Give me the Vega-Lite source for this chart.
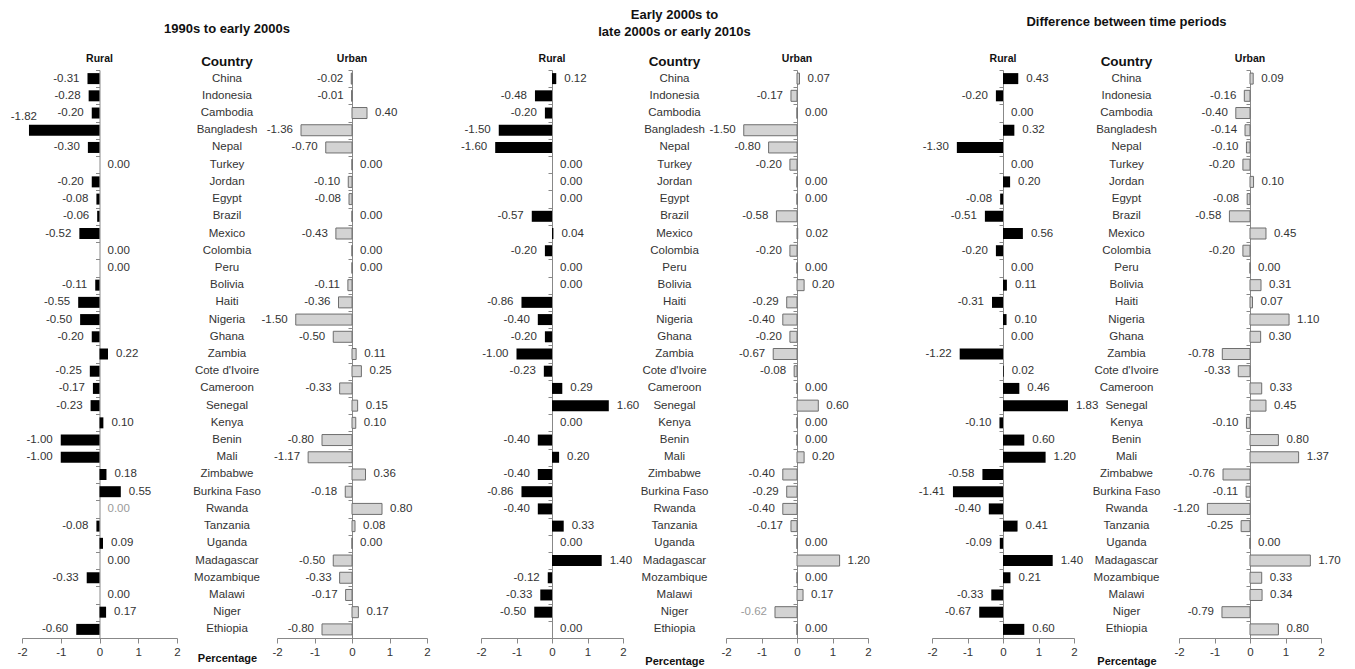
{
  "$schema": "https://vega.github.io/schema/vega-lite/v6.json",
  "padding": {"left": 10, "top": 8, "right": 5, "bottom": 5},
  "background": "white",
  "config": {
    "font": "Liberation Sans",
    "view": {"stroke": null},
    "axis": {"labelFont": "Liberation Sans", "labelFontSize": 11.5, "labelColor": "#333", "domainColor": "#888", "tickColor": "#888", "grid": false, "titleFont": "Liberation Sans", "labelFlush": false, "labelOverlap": false, "labelBound": false},
    "axisX": {"tickCount": 5},
    "title": {"font": "Liberation Sans", "fontWeight": "bold", "color": "#111"},
    "text": {"font": "Liberation Sans", "fontSize": 11.5},
    "locale": {"number": {"decimal": ".", "thousands": ",", "grouping": [3], "currency": ["$", ""], "minus": "-"}}
  },
  "datasets": {
    "d": [
      {"c":"China","p":1,"a":"Rural","v":-0.31},{"c":"Indonesia","p":1,"a":"Rural","v":-0.28},{"c":"Cambodia","p":1,"a":"Rural","v":-0.20},{"c":"Bangladesh","p":1,"a":"Rural","v":-1.82},{"c":"Nepal","p":1,"a":"Rural","v":-0.30},{"c":"Turkey","p":1,"a":"Rural","v":0.00},{"c":"Jordan","p":1,"a":"Rural","v":-0.20},{"c":"Egypt","p":1,"a":"Rural","v":-0.08},{"c":"Brazil","p":1,"a":"Rural","v":-0.06},{"c":"Mexico","p":1,"a":"Rural","v":-0.52},{"c":"Colombia","p":1,"a":"Rural","v":0.00},{"c":"Peru","p":1,"a":"Rural","v":0.00},{"c":"Bolivia","p":1,"a":"Rural","v":-0.11},{"c":"Haiti","p":1,"a":"Rural","v":-0.55},{"c":"Nigeria","p":1,"a":"Rural","v":-0.50},{"c":"Ghana","p":1,"a":"Rural","v":-0.20},{"c":"Zambia","p":1,"a":"Rural","v":0.22},{"c":"Cote d'Ivoire","p":1,"a":"Rural","v":-0.25},{"c":"Cameroon","p":1,"a":"Rural","v":-0.17},{"c":"Senegal","p":1,"a":"Rural","v":-0.23},{"c":"Kenya","p":1,"a":"Rural","v":0.10},{"c":"Benin","p":1,"a":"Rural","v":-1.00},{"c":"Mali","p":1,"a":"Rural","v":-1.00},{"c":"Zimbabwe","p":1,"a":"Rural","v":0.18},{"c":"Burkina Faso","p":1,"a":"Rural","v":0.55},{"c":"Rwanda","p":1,"a":"Rural","v":0.00},{"c":"Tanzania","p":1,"a":"Rural","v":-0.08},{"c":"Uganda","p":1,"a":"Rural","v":0.09},{"c":"Madagascar","p":1,"a":"Rural","v":0.00},{"c":"Mozambique","p":1,"a":"Rural","v":-0.33},{"c":"Malawi","p":1,"a":"Rural","v":0.00},{"c":"Niger","p":1,"a":"Rural","v":0.17},{"c":"Ethiopia","p":1,"a":"Rural","v":-0.60},
      {"c":"China","p":1,"a":"Urban","v":-0.02},{"c":"Indonesia","p":1,"a":"Urban","v":-0.01},{"c":"Cambodia","p":1,"a":"Urban","v":0.40},{"c":"Bangladesh","p":1,"a":"Urban","v":-1.36},{"c":"Nepal","p":1,"a":"Urban","v":-0.70},{"c":"Turkey","p":1,"a":"Urban","v":0.00},{"c":"Jordan","p":1,"a":"Urban","v":-0.10},{"c":"Egypt","p":1,"a":"Urban","v":-0.08},{"c":"Brazil","p":1,"a":"Urban","v":0.00},{"c":"Mexico","p":1,"a":"Urban","v":-0.43},{"c":"Colombia","p":1,"a":"Urban","v":0.00},{"c":"Peru","p":1,"a":"Urban","v":0.00},{"c":"Bolivia","p":1,"a":"Urban","v":-0.11},{"c":"Haiti","p":1,"a":"Urban","v":-0.36},{"c":"Nigeria","p":1,"a":"Urban","v":-1.50},{"c":"Ghana","p":1,"a":"Urban","v":-0.50},{"c":"Zambia","p":1,"a":"Urban","v":0.11},{"c":"Cote d'Ivoire","p":1,"a":"Urban","v":0.25},{"c":"Cameroon","p":1,"a":"Urban","v":-0.33},{"c":"Senegal","p":1,"a":"Urban","v":0.15},{"c":"Kenya","p":1,"a":"Urban","v":0.10},{"c":"Benin","p":1,"a":"Urban","v":-0.80},{"c":"Mali","p":1,"a":"Urban","v":-1.17},{"c":"Zimbabwe","p":1,"a":"Urban","v":0.36},{"c":"Burkina Faso","p":1,"a":"Urban","v":-0.18},{"c":"Rwanda","p":1,"a":"Urban","v":0.80},{"c":"Tanzania","p":1,"a":"Urban","v":0.08},{"c":"Uganda","p":1,"a":"Urban","v":0.00},{"c":"Madagascar","p":1,"a":"Urban","v":-0.50},{"c":"Mozambique","p":1,"a":"Urban","v":-0.33},{"c":"Malawi","p":1,"a":"Urban","v":-0.17},{"c":"Niger","p":1,"a":"Urban","v":0.17},{"c":"Ethiopia","p":1,"a":"Urban","v":-0.80},
      {"c":"China","p":2,"a":"Rural","v":0.12},{"c":"Indonesia","p":2,"a":"Rural","v":-0.48},{"c":"Cambodia","p":2,"a":"Rural","v":-0.20},{"c":"Bangladesh","p":2,"a":"Rural","v":-1.50},{"c":"Nepal","p":2,"a":"Rural","v":-1.60},{"c":"Turkey","p":2,"a":"Rural","v":0.00},{"c":"Jordan","p":2,"a":"Rural","v":0.00},{"c":"Egypt","p":2,"a":"Rural","v":0.00},{"c":"Brazil","p":2,"a":"Rural","v":-0.57},{"c":"Mexico","p":2,"a":"Rural","v":0.04},{"c":"Colombia","p":2,"a":"Rural","v":-0.20},{"c":"Peru","p":2,"a":"Rural","v":0.00},{"c":"Bolivia","p":2,"a":"Rural","v":0.00},{"c":"Haiti","p":2,"a":"Rural","v":-0.86},{"c":"Nigeria","p":2,"a":"Rural","v":-0.40},{"c":"Ghana","p":2,"a":"Rural","v":-0.20},{"c":"Zambia","p":2,"a":"Rural","v":-1.00},{"c":"Cote d'Ivoire","p":2,"a":"Rural","v":-0.23},{"c":"Cameroon","p":2,"a":"Rural","v":0.29},{"c":"Senegal","p":2,"a":"Rural","v":1.60},{"c":"Kenya","p":2,"a":"Rural","v":0.00},{"c":"Benin","p":2,"a":"Rural","v":-0.40},{"c":"Mali","p":2,"a":"Rural","v":0.20},{"c":"Zimbabwe","p":2,"a":"Rural","v":-0.40},{"c":"Burkina Faso","p":2,"a":"Rural","v":-0.86},{"c":"Rwanda","p":2,"a":"Rural","v":-0.40},{"c":"Tanzania","p":2,"a":"Rural","v":0.33},{"c":"Uganda","p":2,"a":"Rural","v":0.00},{"c":"Madagascar","p":2,"a":"Rural","v":1.40},{"c":"Mozambique","p":2,"a":"Rural","v":-0.12},{"c":"Malawi","p":2,"a":"Rural","v":-0.33},{"c":"Niger","p":2,"a":"Rural","v":-0.50},{"c":"Ethiopia","p":2,"a":"Rural","v":0.00},
      {"c":"China","p":2,"a":"Urban","v":0.07},{"c":"Indonesia","p":2,"a":"Urban","v":-0.17},{"c":"Cambodia","p":2,"a":"Urban","v":0.00},{"c":"Bangladesh","p":2,"a":"Urban","v":-1.50},{"c":"Nepal","p":2,"a":"Urban","v":-0.80},{"c":"Turkey","p":2,"a":"Urban","v":-0.20},{"c":"Jordan","p":2,"a":"Urban","v":0.00},{"c":"Egypt","p":2,"a":"Urban","v":0.00},{"c":"Brazil","p":2,"a":"Urban","v":-0.58},{"c":"Mexico","p":2,"a":"Urban","v":0.02},{"c":"Colombia","p":2,"a":"Urban","v":-0.20},{"c":"Peru","p":2,"a":"Urban","v":0.00},{"c":"Bolivia","p":2,"a":"Urban","v":0.20},{"c":"Haiti","p":2,"a":"Urban","v":-0.29},{"c":"Nigeria","p":2,"a":"Urban","v":-0.40},{"c":"Ghana","p":2,"a":"Urban","v":-0.20},{"c":"Zambia","p":2,"a":"Urban","v":-0.67},{"c":"Cote d'Ivoire","p":2,"a":"Urban","v":-0.08},{"c":"Cameroon","p":2,"a":"Urban","v":0.00},{"c":"Senegal","p":2,"a":"Urban","v":0.60},{"c":"Kenya","p":2,"a":"Urban","v":0.00},{"c":"Benin","p":2,"a":"Urban","v":0.00},{"c":"Mali","p":2,"a":"Urban","v":0.20},{"c":"Zimbabwe","p":2,"a":"Urban","v":-0.40},{"c":"Burkina Faso","p":2,"a":"Urban","v":-0.29},{"c":"Rwanda","p":2,"a":"Urban","v":-0.40},{"c":"Tanzania","p":2,"a":"Urban","v":-0.17},{"c":"Uganda","p":2,"a":"Urban","v":0.00},{"c":"Madagascar","p":2,"a":"Urban","v":1.20},{"c":"Mozambique","p":2,"a":"Urban","v":0.00},{"c":"Malawi","p":2,"a":"Urban","v":0.17},{"c":"Niger","p":2,"a":"Urban","v":-0.62},{"c":"Ethiopia","p":2,"a":"Urban","v":0.00},
      {"c":"China","p":3,"a":"Rural","v":0.43},{"c":"Indonesia","p":3,"a":"Rural","v":-0.20},{"c":"Cambodia","p":3,"a":"Rural","v":0.00},{"c":"Bangladesh","p":3,"a":"Rural","v":0.32},{"c":"Nepal","p":3,"a":"Rural","v":-1.30},{"c":"Turkey","p":3,"a":"Rural","v":0.00},{"c":"Jordan","p":3,"a":"Rural","v":0.20},{"c":"Egypt","p":3,"a":"Rural","v":-0.08},{"c":"Brazil","p":3,"a":"Rural","v":-0.51},{"c":"Mexico","p":3,"a":"Rural","v":0.56},{"c":"Colombia","p":3,"a":"Rural","v":-0.20},{"c":"Peru","p":3,"a":"Rural","v":0.00},{"c":"Bolivia","p":3,"a":"Rural","v":0.11},{"c":"Haiti","p":3,"a":"Rural","v":-0.31},{"c":"Nigeria","p":3,"a":"Rural","v":0.10},{"c":"Ghana","p":3,"a":"Rural","v":0.00},{"c":"Zambia","p":3,"a":"Rural","v":-1.22},{"c":"Cote d'Ivoire","p":3,"a":"Rural","v":0.02},{"c":"Cameroon","p":3,"a":"Rural","v":0.46},{"c":"Senegal","p":3,"a":"Rural","v":1.83},{"c":"Kenya","p":3,"a":"Rural","v":-0.10},{"c":"Benin","p":3,"a":"Rural","v":0.60},{"c":"Mali","p":3,"a":"Rural","v":1.20},{"c":"Zimbabwe","p":3,"a":"Rural","v":-0.58},{"c":"Burkina Faso","p":3,"a":"Rural","v":-1.41},{"c":"Rwanda","p":3,"a":"Rural","v":-0.40},{"c":"Tanzania","p":3,"a":"Rural","v":0.41},{"c":"Uganda","p":3,"a":"Rural","v":-0.09},{"c":"Madagascar","p":3,"a":"Rural","v":1.40},{"c":"Mozambique","p":3,"a":"Rural","v":0.21},{"c":"Malawi","p":3,"a":"Rural","v":-0.33},{"c":"Niger","p":3,"a":"Rural","v":-0.67},{"c":"Ethiopia","p":3,"a":"Rural","v":0.60},
      {"c":"China","p":3,"a":"Urban","v":0.09},{"c":"Indonesia","p":3,"a":"Urban","v":-0.16},{"c":"Cambodia","p":3,"a":"Urban","v":-0.40},{"c":"Bangladesh","p":3,"a":"Urban","v":-0.14},{"c":"Nepal","p":3,"a":"Urban","v":-0.10},{"c":"Turkey","p":3,"a":"Urban","v":-0.20},{"c":"Jordan","p":3,"a":"Urban","v":0.10},{"c":"Egypt","p":3,"a":"Urban","v":-0.08},{"c":"Brazil","p":3,"a":"Urban","v":-0.58},{"c":"Mexico","p":3,"a":"Urban","v":0.45},{"c":"Colombia","p":3,"a":"Urban","v":-0.20},{"c":"Peru","p":3,"a":"Urban","v":0.00},{"c":"Bolivia","p":3,"a":"Urban","v":0.31},{"c":"Haiti","p":3,"a":"Urban","v":0.07},{"c":"Nigeria","p":3,"a":"Urban","v":1.10},{"c":"Ghana","p":3,"a":"Urban","v":0.30},{"c":"Zambia","p":3,"a":"Urban","v":-0.78},{"c":"Cote d'Ivoire","p":3,"a":"Urban","v":-0.33},{"c":"Cameroon","p":3,"a":"Urban","v":0.33},{"c":"Senegal","p":3,"a":"Urban","v":0.45},{"c":"Kenya","p":3,"a":"Urban","v":-0.10},{"c":"Benin","p":3,"a":"Urban","v":0.80},{"c":"Mali","p":3,"a":"Urban","v":1.37},{"c":"Zimbabwe","p":3,"a":"Urban","v":-0.76},{"c":"Burkina Faso","p":3,"a":"Urban","v":-0.11},{"c":"Rwanda","p":3,"a":"Urban","v":-1.20},{"c":"Tanzania","p":3,"a":"Urban","v":-0.25},{"c":"Uganda","p":3,"a":"Urban","v":0.00},{"c":"Madagascar","p":3,"a":"Urban","v":1.70},{"c":"Mozambique","p":3,"a":"Urban","v":0.33},{"c":"Malawi","p":3,"a":"Urban","v":0.34},{"c":"Niger","p":3,"a":"Urban","v":-0.79},{"c":"Ethiopia","p":3,"a":"Urban","v":0.80}
    ]
  },
  "data": {"name": "d"},
  "bounds": "flush",
  "spacing": 5,
  "hconcat": [
    {
      "width": 155, "height": 568,
      "title": {"text": "Rural", "frame": "group", "anchor": "middle", "fontSize": 10.5, "offset": 5},
      "transform": [{"filter": "datum.p == 1 && datum.a == 'Rural'"}],
      "encoding": {"y": {"field": "c", "type": "nominal", "sort": null, "scale": {"paddingInner": 0, "paddingOuter": 0}, "axis": {"title": null, "labels": false, "tickBand": "extent", "tickSize": 4, "offset": -77.5}}},
      "layer": [
        {"mark": {"type": "bar", "color": "#000", "size": 11}, "encoding": {"x": {"field": "v", "type": "quantitative", "scale": {"domain": [-2, 2], "nice": false}, "axis": {"title": null, "values": [-2, -1, 0, 1, 2], "tickCount": 5, "format": "d", "tickSize": 5, "labelPadding": 3}}}},
        {"transform": [{"filter": "datum.v < 0 && datum.v > -1.7"}], "mark": {"type": "text", "align": "right", "dx": -8}, "encoding": {"x": {"field": "v", "type": "quantitative"}, "text": {"field": "v", "type": "quantitative", "format": ".2f"}, "color": {"value": "#333"}}},
        {"transform": [{"filter": "datum.v <= -1.7"}], "mark": {"type": "text", "align": "right", "dx": 8, "dy": -13}, "encoding": {"x": {"field": "v", "type": "quantitative"}, "text": {"field": "v", "type": "quantitative", "format": ".2f"}, "color": {"value": "#333"}}},
        {"transform": [{"filter": "datum.v >= 0"}], "mark": {"type": "text", "align": "left", "dx": 8}, "encoding": {"x": {"field": "v", "type": "quantitative"}, "text": {"field": "v", "type": "quantitative", "format": ".2f"}, "color": {"condition": {"test": "datum.c == 'Rwanda'", "value": "#9a9a9a"}, "value": "#333"}}}
      ]
    },
    {
      "width": 90, "height": 568,
      "title": {"text": "1990s to early 2000s", "subtitle": "Country", "frame": "group", "anchor": "middle", "fontSize": 13, "subtitleFontSize": 13.5, "subtitleFontWeight": "bold", "subtitleColor": "#111", "subtitleFont": "Liberation Sans", "subtitlePadding": 19, "offset": 2},
      "transform": [{"filter": "datum.p == 1 && datum.a == 'Rural'"}],
      "mark": {"type": "text", "color": "#333"},
      "encoding": {
        "y": {"field": "c", "type": "nominal", "sort": null, "scale": {"paddingInner": 0, "paddingOuter": 0}, "axis": null},
        "x": {"datum": 0, "type": "quantitative", "scale": {"domain": [-1, 1]}, "axis": {"title": "Percentage", "domain": false, "ticks": false, "labels": false, "grid": false, "titlePadding": 14, "titleFontSize": 11, "titleFontWeight": "bold", "titleColor": "#111"}},
        "text": {"field": "c"}
      }
    },
    {
      "width": 150, "height": 568,
      "title": {"text": "Urban", "frame": "group", "anchor": "middle", "fontSize": 10.5, "offset": 5},
      "transform": [{"filter": "datum.p == 1 && datum.a == 'Urban'"}],
      "encoding": {"y": {"field": "c", "type": "nominal", "sort": null, "scale": {"paddingInner": 0, "paddingOuter": 0}, "axis": {"title": null, "labels": false, "tickBand": "extent", "tickSize": 4, "offset": -75}}},
      "layer": [
        {"mark": {"type": "bar", "color": "#d3d3d3", "stroke": "#6e6e6e", "strokeWidth": 1, "size": 11}, "encoding": {"x": {"field": "v", "type": "quantitative", "scale": {"domain": [-2, 2], "nice": false}, "axis": {"title": null, "values": [-2, -1, 0, 1, 2], "tickCount": 5, "format": "d", "tickSize": 5, "labelPadding": 3}}}},
        {"transform": [{"filter": "datum.v < 0"}], "mark": {"type": "text", "align": "right", "dx": -8}, "encoding": {"x": {"field": "v", "type": "quantitative"}, "text": {"field": "v", "type": "quantitative", "format": ".2f"}, "color": {"value": "#333"}}},
        {"transform": [{"filter": "datum.v >= 0"}], "mark": {"type": "text", "align": "left", "dx": 8}, "encoding": {"x": {"field": "v", "type": "quantitative"}, "text": {"field": "v", "type": "quantitative", "format": ".2f"}, "color": {"value": "#333"}}}
      ]
    },
    {
      "width": 191, "height": 568,
      "title": {"text": "Rural", "frame": "group", "anchor": "middle", "fontSize": 10.5, "offset": 5, "dx": 24.5},
      "transform": [{"filter": "datum.p == 2 && datum.a == 'Rural'"}],
      "encoding": {"y": {"field": "c", "type": "nominal", "sort": null, "scale": {"paddingInner": 0, "paddingOuter": 0}, "axis": {"title": null, "labels": false, "tickBand": "extent", "tickSize": 4, "offset": -120}}},
      "layer": [
        {"mark": {"type": "bar", "color": "#000", "size": 11}, "encoding": {"x": {"field": "v", "type": "quantitative", "scale": {"domain": [-2, 2], "nice": false, "range": [49, 191]}, "axis": {"title": null, "values": [-2, -1, 0, 1, 2], "tickCount": 5, "format": "d", "tickSize": 5, "labelPadding": 3}}}},
        {"transform": [{"filter": "datum.v < 0"}], "mark": {"type": "text", "align": "right", "dx": -8}, "encoding": {"x": {"field": "v", "type": "quantitative"}, "text": {"field": "v", "type": "quantitative", "format": ".2f"}, "color": {"value": "#333"}}},
        {"transform": [{"filter": "datum.v >= 0"}], "mark": {"type": "text", "align": "left", "dx": 8}, "encoding": {"x": {"field": "v", "type": "quantitative"}, "text": {"field": "v", "type": "quantitative", "format": ".2f"}, "color": {"value": "#333"}}}
      ]
    },
    {
      "width": 93, "height": 568,
      "title": {"text": ["Early  2000s to", "late 2000s or early 2010s"], "subtitle": "Country", "frame": "group", "anchor": "middle", "fontSize": 13, "lineHeight": 17, "subtitleFontSize": 13.5, "subtitleFontWeight": "bold", "subtitleColor": "#111", "subtitleFont": "Liberation Sans", "subtitlePadding": 16, "offset": 2},
      "transform": [{"filter": "datum.p == 2 && datum.a == 'Rural'"}],
      "mark": {"type": "text", "color": "#333"},
      "encoding": {
        "y": {"field": "c", "type": "nominal", "sort": null, "scale": {"paddingInner": 0, "paddingOuter": 0}, "axis": null},
        "x": {"datum": 0, "type": "quantitative", "scale": {"domain": [-1, 1]}, "axis": {"title": "Percentage", "domain": false, "ticks": false, "labels": false, "grid": false, "titlePadding": 17, "titleFontSize": 11, "titleFontWeight": "bold", "titleColor": "#111"}},
        "text": {"field": "c"}
      }
    },
    {
      "width": 142, "height": 568,
      "title": {"text": "Urban", "frame": "group", "anchor": "middle", "fontSize": 10.5, "offset": 5},
      "transform": [{"filter": "datum.p == 2 && datum.a == 'Urban'"}],
      "encoding": {"y": {"field": "c", "type": "nominal", "sort": null, "scale": {"paddingInner": 0, "paddingOuter": 0}, "axis": {"title": null, "labels": false, "tickBand": "extent", "tickSize": 4, "offset": -71}}},
      "layer": [
        {"mark": {"type": "bar", "color": "#d3d3d3", "stroke": "#6e6e6e", "strokeWidth": 1, "size": 11}, "encoding": {"x": {"field": "v", "type": "quantitative", "scale": {"domain": [-2, 2], "nice": false}, "axis": {"title": null, "values": [-2, -1, 0, 1, 2], "tickCount": 5, "format": "d", "tickSize": 5, "labelPadding": 3}}}},
        {"transform": [{"filter": "datum.v < 0"}], "mark": {"type": "text", "align": "right", "dx": -8}, "encoding": {"x": {"field": "v", "type": "quantitative"}, "text": {"field": "v", "type": "quantitative", "format": ".2f"}, "color": {"condition": {"test": "datum.c == 'Niger'", "value": "#9a9a9a"}, "value": "#333"}}},
        {"transform": [{"filter": "datum.v >= 0"}], "mark": {"type": "text", "align": "left", "dx": 8}, "encoding": {"x": {"field": "v", "type": "quantitative"}, "text": {"field": "v", "type": "quantitative", "format": ".2f"}, "color": {"value": "#333"}}}
      ]
    },
    {
      "width": 201, "height": 568,
      "title": {"text": "Rural", "frame": "group", "anchor": "middle", "fontSize": 10.5, "offset": 5, "dx": 29.5},
      "transform": [{"filter": "datum.p == 3 && datum.a == 'Rural'"}],
      "encoding": {"y": {"field": "c", "type": "nominal", "sort": null, "scale": {"paddingInner": 0, "paddingOuter": 0}, "axis": {"title": null, "labels": false, "tickBand": "extent", "tickSize": 4, "offset": -130}}},
      "layer": [
        {"mark": {"type": "bar", "color": "#000", "size": 11}, "encoding": {"x": {"field": "v", "type": "quantitative", "scale": {"domain": [-2, 2], "nice": false, "range": [59, 201]}, "axis": {"title": null, "values": [-2, -1, 0, 1, 2], "tickCount": 5, "format": "d", "tickSize": 5, "labelPadding": 3}}}},
        {"transform": [{"filter": "datum.v < 0"}], "mark": {"type": "text", "align": "right", "dx": -8}, "encoding": {"x": {"field": "v", "type": "quantitative"}, "text": {"field": "v", "type": "quantitative", "format": ".2f"}, "color": {"value": "#333"}}},
        {"transform": [{"filter": "datum.v >= 0"}], "mark": {"type": "text", "align": "left", "dx": 8}, "encoding": {"x": {"field": "v", "type": "quantitative"}, "text": {"field": "v", "type": "quantitative", "format": ".2f"}, "color": {"value": "#333"}}}
      ]
    },
    {
      "width": 95, "height": 568,
      "title": {"text": "Difference between time periods", "subtitle": "Country", "frame": "group", "anchor": "middle", "fontSize": 13, "subtitleFontSize": 13.5, "subtitleFontWeight": "bold", "subtitleColor": "#111", "subtitleFont": "Liberation Sans", "subtitlePadding": 26, "offset": 2},
      "transform": [{"filter": "datum.p == 3 && datum.a == 'Rural'"}],
      "mark": {"type": "text", "color": "#333"},
      "encoding": {
        "y": {"field": "c", "type": "nominal", "sort": null, "scale": {"paddingInner": 0, "paddingOuter": 0}, "axis": null},
        "x": {"datum": 0, "type": "quantitative", "scale": {"domain": [-1, 1]}, "axis": {"title": "Percentage", "domain": false, "ticks": false, "labels": false, "grid": false, "titlePadding": 17, "titleFontSize": 11, "titleFontWeight": "bold", "titleColor": "#111"}},
        "text": {"field": "c"}
      }
    },
    {
      "width": 142, "height": 568,
      "title": {"text": "Urban", "frame": "group", "anchor": "middle", "fontSize": 10.5, "offset": 5},
      "transform": [{"filter": "datum.p == 3 && datum.a == 'Urban'"}],
      "encoding": {"y": {"field": "c", "type": "nominal", "sort": null, "scale": {"paddingInner": 0, "paddingOuter": 0}, "axis": {"title": null, "labels": false, "tickBand": "extent", "tickSize": 4, "offset": -71}}},
      "layer": [
        {"mark": {"type": "bar", "color": "#d3d3d3", "stroke": "#6e6e6e", "strokeWidth": 1, "size": 11}, "encoding": {"x": {"field": "v", "type": "quantitative", "scale": {"domain": [-2, 2], "nice": false}, "axis": {"title": null, "values": [-2, -1, 0, 1, 2], "tickCount": 5, "format": "d", "tickSize": 5, "labelPadding": 3}}}},
        {"transform": [{"filter": "datum.v < 0"}], "mark": {"type": "text", "align": "right", "dx": -8}, "encoding": {"x": {"field": "v", "type": "quantitative"}, "text": {"field": "v", "type": "quantitative", "format": ".2f"}, "color": {"value": "#333"}}},
        {"transform": [{"filter": "datum.v >= 0"}], "mark": {"type": "text", "align": "left", "dx": 8}, "encoding": {"x": {"field": "v", "type": "quantitative"}, "text": {"field": "v", "type": "quantitative", "format": ".2f"}, "color": {"value": "#333"}}}
      ]
    }
  ]
}
